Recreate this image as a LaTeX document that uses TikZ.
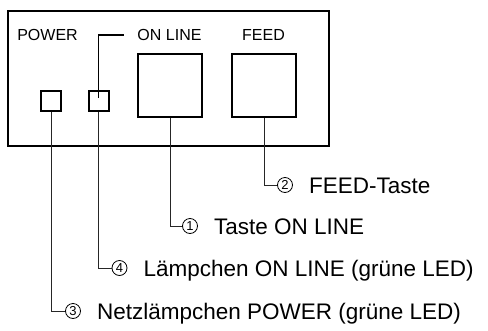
\documentclass[tikz,border=0pt]{standalone}
\usepackage{fontspec}
\setmainfont{Liberation Sans}
\usetikzlibrary{positioning}

\begin{document}
\begin{tikzpicture}[x=1pt, y=-1pt, node distance=16pt,
  every node/.style={inner sep=0pt, font=\fontsize{22}{26}\selectfont},
  panellbl/.style={font=\fontsize{16}{19}\selectfont, text height=11.5pt, text depth=0pt},
  led/.style={draw, line width=2pt, minimum width=20pt, minimum height=20pt},
  key/.style={draw, line width=2pt, minimum width=64pt, minimum height=63pt},
  num/.style={draw, circle, line width=0.8pt, minimum size=15pt, font=\fontsize{13}{15}\selectfont},
  desc/.style={font=\fontsize{22.5}{26}\selectfont, text height=16pt, text depth=0pt},
  leader/.style={draw=black!85, line width=1pt}]
\useasboundingbox (0,0) rectangle (488,330);
\node[draw, line width=1.6pt, minimum width=321pt, minimum height=135pt] (panel) at (168.5,78.5) {};
\node[panellbl] (lblpower) at (47.5,35) {POWER};
\node[panellbl] (lblonline) at (169.5,35) {ON LINE};
\node[panellbl] (lblfeed) at (263.5,35) {FEED};
\node[led] (ledpower) at (51,101) {};
\node[led] (ledonline) at (98.5,101) {};
\node[key] (keyonline) at (170,85.5) {};
\node[key] (keyfeed) at (264,85.5) {};
\draw[line width=1.4pt] ([yshift=-8pt]ledonline.north) |- ([xshift=-13pt]lblonline.west);
\node[num] (num2) at (285,185) {2};
\node[desc, right=of num2] (txt2) {FEED-Taste};
\node[num] (num1) at (190,226) {1};
\node[desc, right=of num1] (txt1) {Taste ON LINE};
\node[num] (num4) at (119.5,268) {4};
\node[desc, right=of num4] (txt4) {Lämpchen ON LINE (grüne LED)};
\node[num] (num3) at (73,311) {3};
\node[desc, right=of num3] (txt3) {Netzlämpchen POWER (grüne LED)};
\draw[leader] (keyfeed.south) |- (num2.west);
\draw[leader] (keyonline.south) |- (num1.west);
\draw[leader] (ledonline.south) |- (num4.west);
\draw[leader] (ledpower.south) |- (num3.west);
\end{tikzpicture}
\end{document}
